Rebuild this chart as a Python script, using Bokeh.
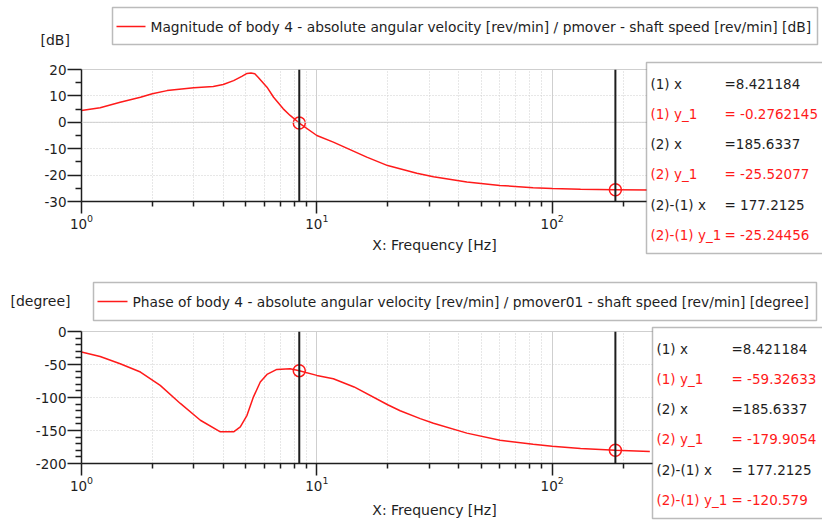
from bokeh.plotting import figure
from bokeh.models import (Range1d, FixedTicker, Span, Label, BoxAnnotation, GridBox,
                          PrintfTickFormatter)
from bokeh.embed import file_html
from bokeh.resources import INLINE

# ---------------- data ----------------
freq_mag = [1, 1.2, 1.46, 1.78, 2.0, 2.31, 3.0, 3.63, 4.0, 4.43, 4.8, 5.05, 5.25, 5.45,
            5.63, 6.14, 6.55, 7.2, 7.7, 8.421184, 10, 11.75, 16.3, 20, 26.6, 31.3,
            43.4, 60, 83, 100, 132, 185.6337, 260]
mag_db = [4.5, 5.5, 7.6, 9.5, 10.8, 12.0, 13.1, 13.6, 14.3, 15.8, 17.4, 18.5, 18.7, 18.4,
          17.1, 13.3, 9.5, 5.1, 2.6, -0.2762145, -5.0, -7.5, -13.2, -16.4, -19.3, -20.6,
          -22.6, -23.9, -24.8, -25.1, -25.4, -25.52077, -25.6]

freq_ph = [1, 1.2, 1.46, 1.78, 2.16, 2.63, 3.2, 3.89, 4.43, 4.73, 5.05, 5.38, 5.75,
           6.14, 6.76, 7.7, 8.421184, 10, 11.75, 14.4, 20, 22.6, 27.5, 31.3, 43.4,
           60, 83, 100, 132, 185.6337, 260]
phase_deg = [-31.2, -37.8, -48.9, -61.4, -81.6, -109, -134.5, -152, -152, -144.6, -127,
             -99, -76.6, -65, -57.4, -56.4, -59.32633, -66.5, -71.5, -84, -111, -120,
             -132, -139, -154, -164.8, -170.8, -173.8, -177.3, -179.9054, -182]

cursor_x = [8.421184, 185.6337]
mag_cursor_y = [-0.2762145, -25.52077]
phase_cursor_y = [-59.32633, -179.9054]
dx_text = "177.2125"
mag_dy_text = "-25.24456"
phase_dy_text = "-120.579"

x_major = [1, 10, 100, 1000]
x_minor = [m * d for d in (1, 10, 100) for m in range(2, 10)]
mag_ticks = [-30, -20, -10, 0, 10, 20]
mag_minor = [-25, -15, -5, 5, 15]
phase_ticks = [-200, -150, -100, -50, 0]
phase_minor = [v for v in range(-190, 0, 10) if v % 50 != 0]

mag_label = "Magnitude of body 4 - absolute angular velocity [rev/min] / pmover - shaft speed [rev/min] [dB]"
phase_label = "Phase of body 4 - absolute angular velocity [rev/min] / pmover01 - shaft speed [rev/min] [degree]"

FONT = "DejaVu Sans"
GRID = "#cfcfcf"
INK = "#1e1e1e"
RED = "#ff1a1a"
W = 822


def make_fig(height, top_border, y_lo, y_hi, y_major, y_minor, label_standoff):
    p = figure(width=W, height=height, x_axis_type="log",
               x_range=Range1d(1, 1000), y_range=Range1d(y_lo, y_hi),
               output_backend="svg", toolbar_location=None,
               min_border_left=81, min_border_right=35, min_border_top=top_border,
               min_border_bottom=height - top_border - 132)
    p.frame_align = False
    p.background_fill_color = "white"
    p.border_fill_color = "white"
    p.outline_line_color = GRID
    p.outline_line_width = 1
    p.xaxis.ticker = FixedTicker(ticks=x_major, minor_ticks=x_minor)
    p.yaxis.ticker = FixedTicker(ticks=y_major, minor_ticks=y_minor)
    p.yaxis.formatter = PrintfTickFormatter(format="%d")
    for ax in (p.xaxis[0], p.yaxis[0]):
        ax.axis_line_color = INK
        ax.axis_line_width = 1.5
        ax.major_tick_line_color = INK
        ax.minor_tick_line_color = INK
        ax.major_tick_line_width = 1.5
        ax.minor_tick_line_width = 1.5
        ax.major_tick_in = 0
        ax.minor_tick_in = 0
        ax.major_label_text_font = FONT
        ax.major_label_text_color = INK
    p.yaxis.major_label_text_font_size = "13.5px"
    p.xaxis.major_label_text_font_size = "13.5px"
    p.xaxis.major_tick_out = 12
    p.xaxis.minor_tick_out = 5
    p.xaxis.major_label_standoff = 0
    p.xaxis.axis_label = "X: Frequency [Hz]"
    p.xaxis.axis_label_text_font = FONT
    p.xaxis.axis_label_text_font_size = "14px"
    p.xaxis.axis_label_text_font_style = "normal"
    p.xaxis.axis_label_text_color = INK
    p.xaxis.axis_label_standoff = label_standoff
    p.yaxis.major_tick_out = 14
    p.yaxis.minor_tick_out = 6
    p.yaxis.major_label_standoff = 1
    p.xgrid.grid_line_color = GRID
    p.xgrid.minor_grid_line_color = GRID
    p.xgrid.minor_grid_line_dash = "1 2"
    p.ygrid.grid_line_color = GRID
    p.ygrid.grid_line_dash = "1 2"
    return p


# ---------------- magnitude ----------------
p1 = make_fig(268, 69, -30, 20, mag_ticks, mag_minor, 5)
p1.add_layout(Span(location=0, dimension="width", line_color=GRID, line_width=1))
p1.line(freq_mag, mag_db, line_color=RED, line_width=1.5)
for cx in cursor_x:
    p1.add_layout(Span(location=cx, dimension="height", line_color=INK, line_width=2))
p1.scatter(cursor_x, mag_cursor_y, marker="circle", size=12, fill_color=None,
           line_color=RED, line_width=1.5)

# ---------------- phase ----------------
p2 = make_fig(253, 63, -200, 0, phase_ticks, phase_minor, 8)
p2.line(freq_ph, phase_deg, line_color=RED, line_width=1.5)
for cx in cursor_x:
    p2.add_layout(Span(location=cx, dimension="height", line_color=INK, line_width=2))
p2.scatter(cursor_x, phase_cursor_y, marker="circle", size=12, fill_color=None,
           line_color=RED, line_width=1.5)

# ---------------- overlay (legend boxes, unit labels, cursor readouts) ----------------
ov = figure(width=W, height=521, x_range=Range1d(0, W), y_range=Range1d(521, 0),
            min_border=0, x_axis_location=None, y_axis_location=None, title=None,
            toolbar_location=None, output_backend="svg")
ov.frame_align = False
ov.background_fill_color = None
ov.border_fill_color = None
ov.outline_line_color = None
for g in ov.grid:
    g.visible = False


def box(l, r, t, b):
    ov.add_layout(BoxAnnotation(left=l, right=r, top=t, bottom=b, fill_color="white",
                                fill_alpha=1.0, line_color=INK, line_width=1.5,
                                level="underlay"))


def text(x, y, s, col=INK, size="14px"):
    ov.add_layout(Label(x=x, y=y, text=s, text_font=FONT, text_font_size=size,
                        text_color=col, text_baseline="middle"))


# legends
box(112, 817, 7, 44)
ov.line([116, 145], [26, 26], line_color=RED, line_width=1.5)
text(150, 26, mag_label, size="13.8px")
box(93, 816, 282, 320)
ov.line([97, 127], [301, 301], line_color=RED, line_width=1.5)
text(132, 301, phase_label, size="13.8px")

# unit labels
text(40, 39, "[dB]", size="14px")
text(10, 300, "[degree]", size="14px")


def info(l, t, b, tx, vx, y0, rows):
    box(l, W + 20, t, b)
    for i, (name, val, col) in enumerate(rows):
        y = y0 + 30.3 * i
        text(tx, y, name, col, "13.5px")
        text(vx, y, val, col, "13.5px")


info(646, 62, 253, 650, 724, 83, [
    ("(1) x", "=%s" % cursor_x[0], INK),
    ("(1) y_1", "= %s" % mag_cursor_y[0], RED),
    ("(2) x", "=%s" % cursor_x[1], INK),
    ("(2) y_1", "= %s" % mag_cursor_y[1], RED),
    ("(2)-(1) x", "= %s" % dx_text, INK),
    ("(2)-(1) y_1", "= %s" % mag_dy_text, RED),
])
info(652, 327, 518, 656, 731, 348, [
    ("(1) x", "=%s" % cursor_x[0], INK),
    ("(1) y_1", "= %s" % phase_cursor_y[0], RED),
    ("(2) x", "=%s" % cursor_x[1], INK),
    ("(2) y_1", "= %s" % phase_cursor_y[1], RED),
    ("(2)-(1) x", "= %s" % dx_text, INK),
    ("(2)-(1) y_1", "= %s" % phase_dy_text, RED),
])

layout = GridBox(children=[(p1, 0, 0), (p2, 1, 0), (ov, 0, 0, 2, 1)])
open("out.html", "w").write(file_html(layout, INLINE))
